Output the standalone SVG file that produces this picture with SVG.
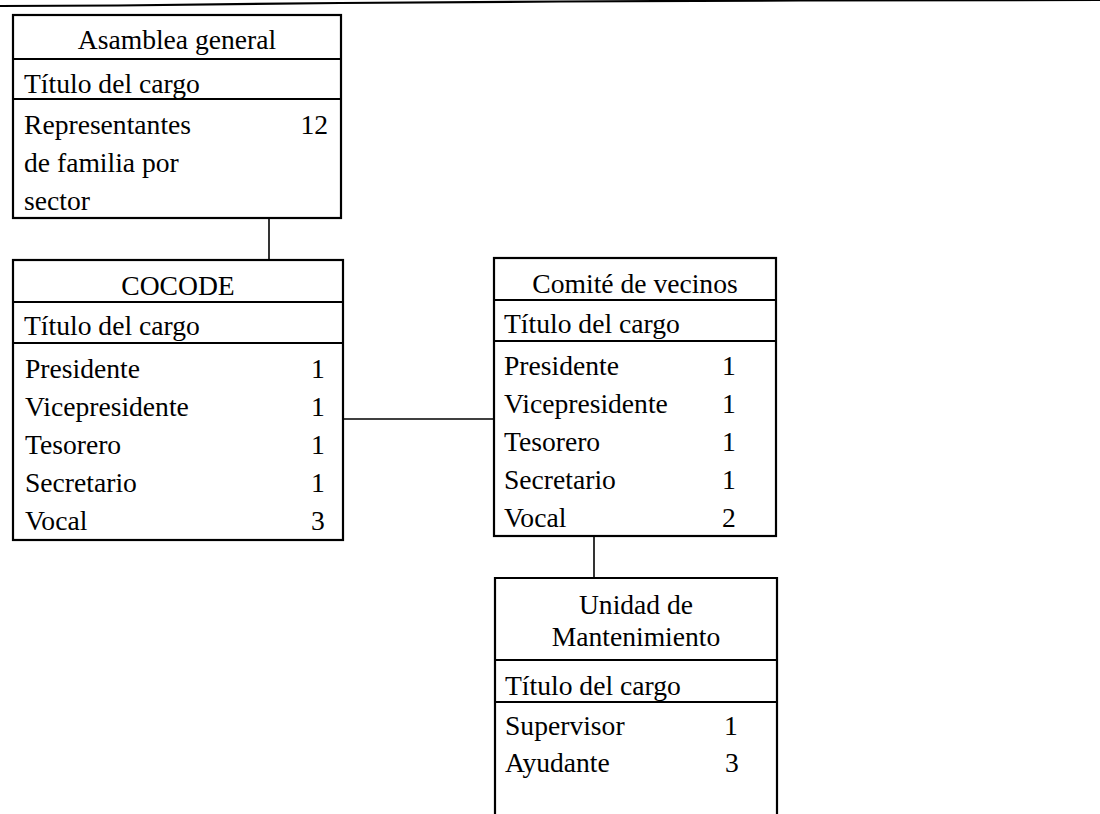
<svg xmlns="http://www.w3.org/2000/svg" width="1100" height="814" viewBox="0 0 1100 814">
<style>
  .box { fill: #ffffff; stroke: #000000; stroke-width: 2.2; }
  .div { stroke: #000000; stroke-width: 2.2; fill: none; }
  .conn { stroke: #000000; stroke-width: 1.6; fill: none; }
  text { font-family: "Liberation Serif", "Times New Roman", Times, serif; font-size: 27.6px; fill: #000000; }
  .c { text-anchor: middle; }
  .n { text-anchor: middle; }
</style>
<rect x="0" y="0" width="1100" height="814" fill="#ffffff"/>
<polyline class="div" points="0,6 118,5.5 340,3 560,1.5 800,0.5 1100,0" stroke-width="2"/>

<g id="connectors">
  <line class="conn" x1="269" y1="218" x2="269" y2="260"/>
  <line class="conn" x1="343" y1="419" x2="494" y2="419"/>
  <line class="conn" x1="594" y1="536" x2="594" y2="578"/>
</g>

<g id="asamblea">
  <rect class="box" x="13" y="15" width="328" height="203"/>
  <line class="div" x1="13" y1="59" x2="341" y2="59"/>
  <line class="div" x1="13" y1="99" x2="341" y2="99"/>
  <text class="c" x="177" y="49">Asamblea general</text>
  <text x="24" y="93">Título del cargo</text>
  <text x="24" y="134">Representantes</text>
  <text x="24" y="172">de familia por</text>
  <text x="24" y="210">sector</text>
  <text x="328" y="134" text-anchor="end">12</text>
</g>

<g id="cocode">
  <rect class="box" x="13" y="260" width="330" height="280"/>
  <line class="div" x1="13" y1="302" x2="343" y2="302"/>
  <line class="div" x1="13" y1="343" x2="343" y2="343"/>
  <text class="c" x="178" y="295">COCODE</text>
  <text x="24" y="335">Título del cargo</text>
  <text x="25" y="378">Presidente</text>
  <text x="25" y="416">Vicepresidente</text>
  <text x="25" y="454">Tesorero</text>
  <text x="25" y="492">Secretario</text>
  <text x="25" y="530">Vocal</text>
  <text class="n" x="318" y="378">1</text>
  <text class="n" x="318" y="416">1</text>
  <text class="n" x="318" y="454">1</text>
  <text class="n" x="318" y="492">1</text>
  <text class="n" x="318" y="530">3</text>
</g>

<g id="comite">
  <rect class="box" x="494" y="258" width="282" height="278"/>
  <line class="div" x1="494" y1="300" x2="776" y2="300"/>
  <line class="div" x1="494" y1="341" x2="776" y2="341"/>
  <text class="c" x="635" y="293">Comité de vecinos</text>
  <text x="504" y="333">Título del cargo</text>
  <text x="504" y="375">Presidente</text>
  <text x="504" y="413">Vicepresidente</text>
  <text x="504" y="451">Tesorero</text>
  <text x="504" y="489">Secretario</text>
  <text x="504" y="527">Vocal</text>
  <text class="n" x="729" y="375">1</text>
  <text class="n" x="729" y="413">1</text>
  <text class="n" x="729" y="451">1</text>
  <text class="n" x="729" y="489">1</text>
  <text class="n" x="729" y="527">2</text>
</g>

<g id="unidad">
  <path class="div" d="M495,816 V578 H777 V816"/>
  <line class="div" x1="495" y1="660" x2="777" y2="660"/>
  <line class="div" x1="495" y1="702" x2="777" y2="702"/>
  <text class="c" x="636" y="614">Unidad de</text>
  <text class="c" x="636" y="646">Mantenimiento</text>
  <text x="505" y="695">Título del cargo</text>
  <text x="505" y="735">Supervisor</text>
  <text x="505" y="772">Ayudante</text>
  <text class="n" x="731" y="735">1</text>
  <text class="n" x="732" y="772">3</text>
</g>
</svg>
